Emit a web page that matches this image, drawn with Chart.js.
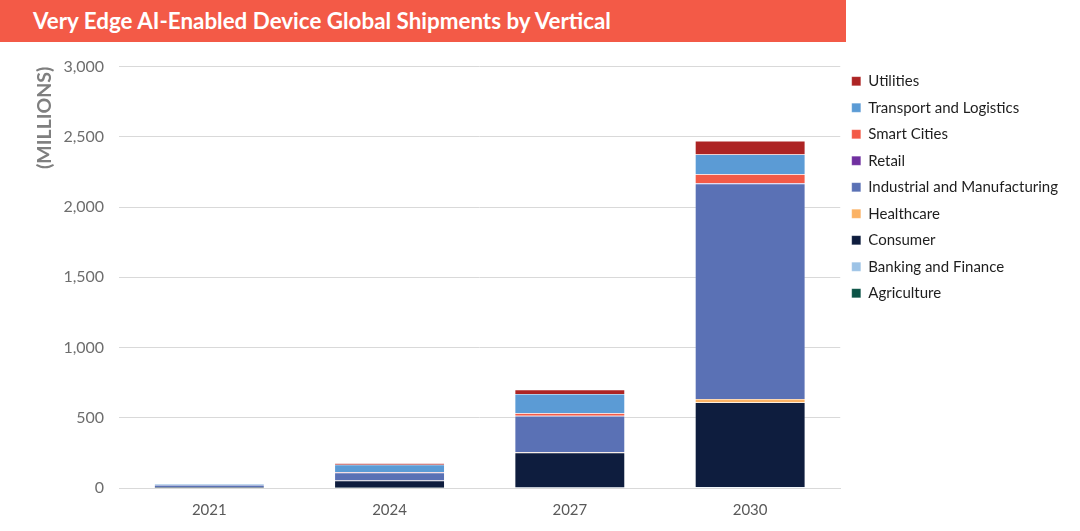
<!DOCTYPE html>
<html>
<head>
<meta charset="utf-8">
<script src="https://cdn.jsdelivr.net/npm/chart.js@4/dist/chart.umd.min.js"></script>
<style>
  body { margin: 0; background: #fff; font-family: Lato, sans-serif; }
  .title-bar {
    position: absolute; left: 0; top: 0; width: 846px; height: 42px;
    background: #F35A47; color: #fff;
    font: bold 22.4px Lato, sans-serif; line-height: 42px;
    padding-left: 33px; box-sizing: border-box;
  }
  .chart-wrap { position: absolute; left: 0; top: 42px; width: 1080px; height: 489px; }
</style>
</head>
<body>
<div class="title-bar">Very Edge AI-Enabled Device Global Shipments by Vertical</div>
<div class="chart-wrap"><canvas id="shipmentsChart"></canvas></div>
<script>
// Data (millions of units)
const years = ["2021", "2024", "2027", "2030"];
const agriculture = [0.2, 1, 2, 4];
const banking = [0.2, 1, 2, 4];
const consumer = [5, 50, 247, 600];
const healthcare = [0.5, 2, 3, 25];
const industrial = [15, 55, 258, 1533];
const retail = [0.3, 1, 2, 5];
const smartCities = [1, 4, 19, 62];
const transport = [4, 52, 137, 142];
const utilities = [1, 10, 29, 95];
const yTicks = [0, 500, 1000, 1500, 2000, 2500, 3000];

const series = [
  { label: "Agriculture", data: agriculture, color: "#0B5346" },
  { label: "Banking and Finance", data: banking, color: "#9DC3E6" },
  { label: "Consumer", data: consumer, color: "#0E1D3E" },
  { label: "Healthcare", data: healthcare, color: "#FBB264" },
  { label: "Industrial and Manufacturing", data: industrial, color: "#5A71B5" },
  { label: "Retail", data: retail, color: "#7030A0" },
  { label: "Smart Cities", data: smartCities, color: "#F35A47" },
  { label: "Transport and Logistics", data: transport, color: "#5B9BD5" },
  { label: "Utilities", data: utilities, color: "#AD2424" },
];

const ctx = document.getElementById("shipmentsChart").getContext("2d");

new Chart(ctx, {
  type: "bar",
  data: {
    labels: years,
    datasets: series.map((s) => ({
      label: s.label,
      data: s.data,
      backgroundColor: s.color,
      borderColor: "rgba(255, 255, 255, 0.35)",
      borderWidth: 0.5,
      categoryPercentage: 1,
      barPercentage: 0.61,
    })),
  },
  options: {
    responsive: true,
    maintainAspectRatio: false,
    animation: false,
    layout: {
      padding: { top: 14, right: 12, bottom: 7, left: 33 },
    },
    plugins: {
      tooltip: { enabled: false },
      legend: {
        position: "right",
        align: "start",
        reverse: true,
        title: {
          display: true,
          text: "",
          font: { size: 1 },
          padding: { top: 0, bottom: 5 },
        },
        labels: {
          color: "#1E1E1E",
          font: { family: "Lato", size: 15 },
          boxWidth: 9,
          boxHeight: 9,
          padding: 11.5,
        },
      },
    },
    scales: {
      x: {
        stacked: true,
        grid: { display: false },
        border: { color: "#D9D9D9" },
        ticks: {
          color: "#595959",
          font: { family: "Lato", size: 15 },
          padding: 5,
        },
      },
      y: {
        stacked: true,
        min: 0,
        max: 3000,
        afterBuildTicks: (axis) => {
          axis.ticks = yTicks.map((v) => ({ value: v }));
        },
        grid: { color: "#D9D9D9", drawTicks: false },
        border: { display: false },
        ticks: {
          color: "#6E6E6E",
          font: { family: "Lato", size: 16 },
          padding: 15,
          callback: (v) => v.toLocaleString("en-US"),
        },
        title: {
          display: true,
          text: "(MILLIONS)",
          align: "end",
          color: "#7F7F7F",
          font: { family: "Lato", size: 19.5, weight: "bold" },
          padding: { top: 0, bottom: -8 },
        },
      },
    },
  },
});
</script>
</body>
</html>
